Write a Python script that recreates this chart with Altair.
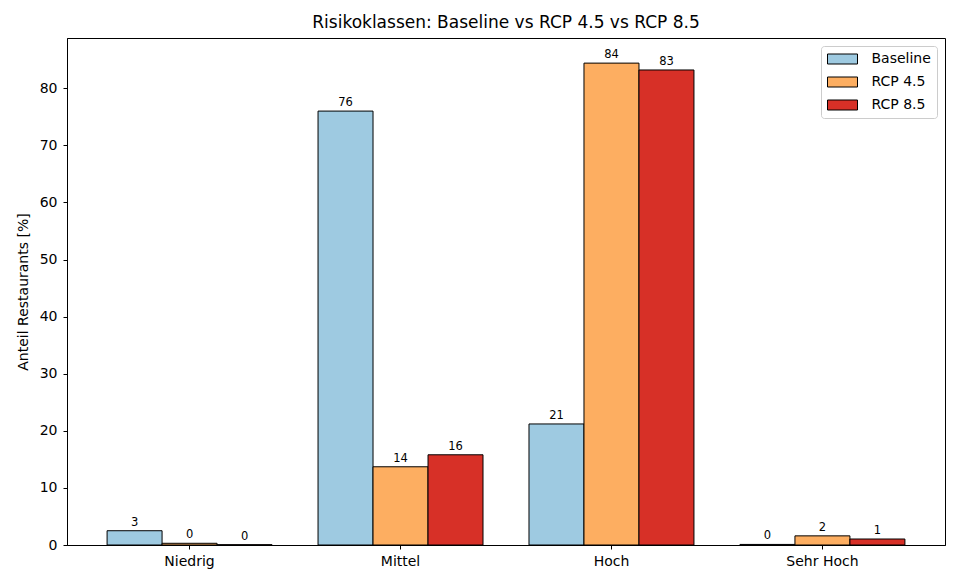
import altair as alt
import pandas as pd

categories = ["Niedrig", "Mittel", "Hoch", "Sehr Hoch"]
series = ["Baseline", "RCP 4.5", "RCP 8.5"]
baseline = [2.5, 76.0, 21.2, 0.1]
rcp45 = [0.3, 13.7, 84.4, 1.6]
rcp85 = [0.05, 15.8, 83.2, 1.05]
colors = ["#9ecae1", "#fdae61", "#d73027"]

rows = []
for s, vals in zip(series, [baseline, rcp45, rcp85]):
    for c, v in zip(categories, vals):
        rows.append({"Kategorie": c, "Szenario": s, "Wert": v})
df = pd.DataFrame(rows)

FONT = "DejaVu Sans"

x = alt.X("Kategorie:N", sort=categories,
          scale=alt.Scale(paddingInner=0.218, paddingOuter=0.19),
          axis=alt.Axis(title=None, labelAngle=0, labelFontSize=14, labelPadding=5,
                        tickSize=4, labelColor="black", tickColor="black",
                        domainColor="black", labelFont=FONT))
xo = alt.XOffset("Szenario:N", sort=series,
                 scale=alt.Scale(paddingInner=0, paddingOuter=0))
y = alt.Y("Wert:Q", scale=alt.Scale(domain=[0, 88.8], nice=False, zero=True),
          axis=alt.Axis(title="Anteil Restaurants [%]", values=list(range(0, 90, 10)),
                        grid=False, labelFontSize=14, titleFontSize=14,
                        titleFontWeight="normal", labelColor="black",
                        titleColor="black", tickColor="black", domainColor="black",
                        tickSize=4, labelPadding=6, titlePadding=9,
                        labelFont=FONT, titleFont=FONT))

color = alt.Color("Szenario:N", sort=series,
                  scale=alt.Scale(domain=series, range=colors),
                  legend=alt.Legend(title=None, orient="top-right", offset=8,
                                    symbolType="M-3,-1H3V1H-3Z",
                                    symbolSize=100, symbolStrokeColor="black",
                                    symbolStrokeWidth=1, symbolOffset=8.5,
                                    labelFontSize=14, labelFont=FONT,
                                    labelColor="black",
                                    strokeColor="#cccccc", fillColor="white",
                                    cornerRadius=3, padding=6, rowPadding=9,
                                    labelOffset=22))

bars = alt.Chart(df).mark_bar(stroke="black", strokeWidth=1).encode(
    x=x, xOffset=xo, y=y, color=color)

labels = alt.Chart(df).mark_text(baseline="bottom", dy=-3, fontSize=11.5,
                                 font=FONT, color="black").encode(
    x=alt.X("Kategorie:N", sort=categories),
    xOffset=alt.XOffset("Szenario:N", sort=series),
    y=alt.Y("Wert:Q"),
    text=alt.Text("Wert:Q", format=".0f"))

chart = alt.layer(bars, labels).properties(
    width=878, height=507,
    title=alt.TitleParams("Risikoklassen: Baseline vs RCP 4.5 vs RCP 8.5",
                          fontSize=17, font=FONT, fontWeight="normal",
                          color="black", anchor="middle", offset=6),
    autosize=alt.AutoSizeParams(type="none"),
    padding={"left": 59, "top": 30, "right": 5, "bottom": 30},
).configure_view(stroke="black", strokeWidth=1)

chart.save("out.html", embed_options={"renderer": "svg", "actions": False})
